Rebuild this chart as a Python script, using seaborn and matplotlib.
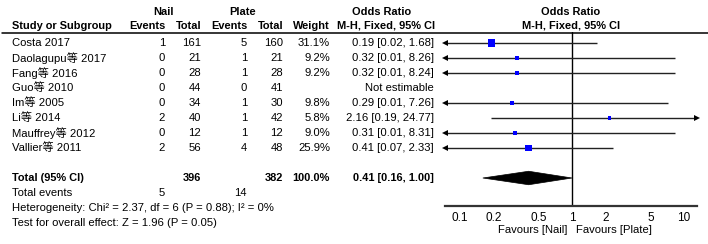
import numpy as np
import pandas as pd
import matplotlib
matplotlib.use("Agg")
import matplotlib.pyplot as plt
import seaborn as sns
from matplotlib.patches import Polygon

sns.set_theme(style="white")
plt.rcParams['font.family'] = ['Liberation Sans', 'Noto Sans CJK SC', 'DejaVu Sans']

# ---------------- data ----------------
studies = ['Costa 2017', 'Daolagupu等 2017', 'Fang等 2016', 'Guo等 2010',
           'Im等 2005', 'Li等 2014', 'Mauffrey等 2012', 'Vallier等 2011']
nail_events = [1, 0, 0, 0, 0, 2, 0, 2]
nail_total = [161, 21, 28, 44, 34, 40, 12, 56]
plate_events = [5, 1, 1, 0, 1, 1, 1, 4]
plate_total = [160, 21, 28, 41, 30, 42, 12, 48]
weights = [31.1, 9.2, 9.2, np.nan, 9.8, 5.8, 9.0, 25.9]
odds = [0.19, 0.32, 0.32, np.nan, 0.29, 2.16, 0.31, 0.41]
ci_lo = [0.02, 0.01, 0.01, np.nan, 0.01, 0.19, 0.01, 0.07]
ci_hi = [1.68, 8.26, 8.24, np.nan, 7.26, 24.77, 8.31, 2.33]

total_nail, total_plate = 396, 382
total_weight = 100.0
pooled_or, pooled_lo, pooled_hi = 0.41, 0.16, 1.00
events_nail, events_plate = 5, 14
heterogeneity = 'Heterogeneity: Chi² = 2.37, df = 6 (P = 0.88); I² = 0%'
overall = 'Test for overall effect: Z = 1.96 (P = 0.05)'
tick_vals = [0.1, 0.2, 0.5, 1, 2, 5, 10]
tick_labels = ['0.1', '0.2', '0.5', '1', '2', '5', '10']
favours = ['Favours [Nail]', 'Favours [Plate]']

# ---------------- layout ----------------
W, H = 708, 244
fig = plt.figure(figsize=(W / 100, H / 100), dpi=100)
FS = 8.1
FSB = 7.9

ROW0, ROWH = 43, 15          # pixel y of first row, row spacing
def ry(r):
    return ROW0 + ROWH * r

# text axes in pixel coordinates
at = fig.add_axes([0, 0, 1, 1])
at.set_xlim(0, W)
at.set_ylim(H, 0)
at.axis('off')

def txt(x, y, s, ha='right', bold=False, **kw):
    at.text(x, y, s, ha=ha, va='center', fontsize=FSB if bold else FS,
            fontweight='bold' if bold else 'normal', color='black', **kw)

# headers
txt(164, 12, 'Nail', ha='center', bold=True)
txt(243, 12, 'Plate', ha='center', bold=True)
txt(382, 12, 'Odds Ratio', ha='center', bold=True)
txt(571, 12, 'Odds Ratio', ha='center', bold=True)
txt(12, 26, 'Study or Subgroup', ha='left', bold=True)
for x, s in [(165, 'Events'), (201, 'Total'), (247, 'Events'), (283, 'Total'),
             (330, 'Weight'), (435, 'M-H, Fixed, 95% CI')]:
    txt(x, 26, s, bold=True)
txt(571, 26, 'M-H, Fixed, 95% CI', ha='center', bold=True)
at.plot([2, W], [32.5, 32.5], color='black', lw=1.1)

# study rows
for i, name in enumerate(studies):
    y = ry(i)
    txt(12, y, name, ha='left')
    txt(165, y, str(nail_events[i]))
    txt(201, y, str(nail_total[i]))
    txt(247, y, str(plate_events[i]))
    txt(283, y, str(plate_total[i]))
    if np.isnan(odds[i]):
        txt(434, y, 'Not estimable')
    else:
        txt(330, y, f'{weights[i]:.1f}%')
        txt(434, y, f'{odds[i]:.2f} [{ci_lo[i]:.2f}, {ci_hi[i]:.2f}]')

# total rows
r_tot = len(studies) + 1
txt(12, ry(r_tot), 'Total (95% CI)', ha='left', bold=True)
txt(201, ry(r_tot), str(total_nail), bold=True)
txt(283, ry(r_tot), str(total_plate), bold=True)
txt(330, ry(r_tot), f'{total_weight:.1f}%', bold=True)
txt(434, ry(r_tot), f'{pooled_or:.2f} [{pooled_lo:.2f}, {pooled_hi:.2f}]', bold=True)
txt(12, ry(r_tot + 1), 'Total events', ha='left')
txt(165, ry(r_tot + 1), str(events_nail))
txt(247, ry(r_tot + 1), str(events_plate))
txt(12, ry(r_tot + 2), heterogeneity, ha='left')
txt(12, ry(r_tot + 3), overall, ha='left')

# ---------------- forest axes ----------------
x0, x1 = 445, 697            # pixel extent of forest axis
ytop, ybot = 32.5, 206       # pixel extent vertical
af = fig.add_axes([x0 / W, (H - ybot) / H, (x1 - x0) / W, (ybot - ytop) / H])
af.patch.set_visible(False)
af.set_xscale('log')
xmin, xmax = 0.0735, 13.05
af.set_xlim(xmin, xmax)
af.set_ylim((ybot - ROW0) / ROWH, (ytop - ROW0) / ROWH)
for s in ['left', 'right', 'top']:
    af.spines[s].set_visible(False)
af.spines['bottom'].set_color('#333333')
af.spines['bottom'].set_linewidth(1.6)
af.set_yticks([])
af.set_xticks(tick_vals)
af.set_xticklabels(tick_labels)
af.minorticks_off()
af.tick_params(axis='x', direction='inout', length=6, width=1.3, color='#333333',
               labelsize=8.5, pad=1.5, labelcolor='black')
af.axvline(1, color='black', lw=1.0, zorder=1)

df = pd.DataFrame({'study': studies, 'odds': odds, 'lo': ci_lo, 'hi': ci_hi,
                   'weight': weights, 'row': np.arange(len(studies))}).dropna()

for _, r in df.iterrows():
    lo = max(r.lo, xmin)
    hi = min(r.hi, xmax)
    af.plot([lo, hi], [r.row, r.row], color='#222222', lw=1.0, zorder=2,
            solid_capstyle='butt')
    if r.lo < xmin:
        af.plot([xmin], [r.row], marker='<', color='black', ms=5,
                clip_on=False, zorder=3, mew=0)
    if r.hi > xmax:
        af.plot([xmax], [r.row], marker='>', color='black', ms=5,
                clip_on=False, zorder=3, mew=0)

wmin, wmax = df.weight.min(), df.weight.max()
sns.scatterplot(data=df, x='odds', y='row', size='weight',
                sizes=(0.85 * wmin, 0.85 * wmax), size_norm=(wmin, wmax),
                marker='s', color='#0000ff', linewidth=0, legend=False,
                ax=af, zorder=4)
af.set_xlabel('')
af.set_ylabel('')

# pooled diamond
hh = 0.45
diamond = Polygon([(pooled_lo, r_tot), (pooled_or, r_tot - hh),
                   (pooled_hi, r_tot), (pooled_or, r_tot + hh)],
                  closed=True, facecolor='black', edgecolor='black', lw=0.5, zorder=4)
af.add_patch(diamond)

# favours labels
txt(567, 230, favours[0])
txt(576, 230, favours[1], ha='left')

fig.savefig('out.png', dpi=100)
